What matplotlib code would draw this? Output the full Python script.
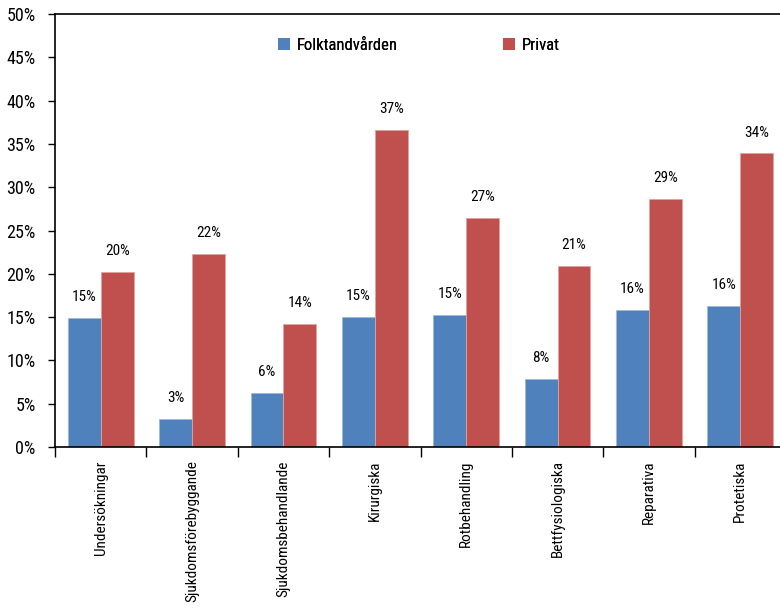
import matplotlib
matplotlib.use("Agg")
import matplotlib.pyplot as plt
import numpy as np
from matplotlib import font_manager
from matplotlib.patches import Patch

categories = ["Undersökningar", "Sjukdomsförebyggande", "Sjukdomsbehandlande", "Kirurgiska",
              "Rotbehandling", "Bettfysiologiska", "Reparativa", "Protetiska"]
folk = [14.9, 3.2, 6.2, 15.0, 15.2, 7.9, 15.8, 16.3]
privat = [20.2, 22.3, 14.2, 36.6, 26.4, 20.9, 28.6, 33.9]
folk_labels = ["15%", "3%", "6%", "15%", "15%", "8%", "16%", "16%"]
privat_labels = ["20%", "22%", "14%", "37%", "27%", "21%", "29%", "34%"]
yticks = [0, 5, 10, 15, 20, 25, 30, 35, 40, 45, 50]

avail = {f.name for f in font_manager.fontManager.ttflist}
fams = [f for f in ["Liberation Sans Narrow", "Roboto Condensed", "DejaVu Sans Condensed"] if f in avail]
plt.rcParams['font.family'] = fams + ["DejaVu Sans"]

fig = plt.figure(figsize=(7.8, 6.11), dpi=100)
W, H = 780, 611
ax = fig.add_axes([55 / W, 1 - 447 / H, (786 - 55) / W, (447 - 14) / H])

BLUE, RED = "#4F81BD", "#C0504D"
x = np.arange(len(categories))
bw = 0.36
ax.bar(x - bw / 2, folk, bw, color=BLUE, edgecolor="#9DB9DE", linewidth=0.6)
ax.bar(x + bw / 2, privat, bw, color=RED, edgecolor="#E2A3A1", linewidth=0.6)

for xi, v, t in zip(x - bw / 2, folk, folk_labels):
    ax.annotate(t, (xi, v), xytext=(0, 10), textcoords="offset points", ha="center", va="bottom", fontsize=11)
for xi, v, t in zip(x + bw / 2, privat, privat_labels):
    ax.annotate(t, (xi, v), xytext=(0, 10), textcoords="offset points", ha="center", va="bottom", fontsize=11)

ax.set_xlim(-0.5, len(categories) - 0.5)
ax.set_ylim(0, 50)
ax.set_yticks(yticks)
ax.set_yticklabels([f"{v}%" for v in yticks], fontsize=13)
ax.tick_params(axis="y", direction="out", length=5, width=1, pad=9)

ax.set_xticks(x)
ax.set_xticklabels(categories, rotation=90, fontsize=11, va="top")
ax.tick_params(axis="x", which="major", length=0, pad=9.5)
ax.set_xticks(np.arange(-0.5, len(categories) + 0.5, 1), minor=True)
ax.tick_params(axis="x", which="minor", direction="out", length=7, width=1)

for s in ["top", "left", "bottom"]:
    ax.spines[s].set_linewidth(1.2)
ax.spines["right"].set_visible(False)

for name, col, lx in [("Folktandvården", BLUE, 278), ("Privat", RED, 503)]:
    leg = fig.legend(handles=[Patch(facecolor=col, label=name)], loc="center left",
                     bbox_to_anchor=(lx / W, 1 - 45 / H), frameon=False, fontsize=12,
                     handlelength=0.7, handleheight=0.7, handletextpad=0.4, borderpad=0,
                     borderaxespad=0)
    fig.add_artist(leg)

fig.savefig("out.png", dpi=100)
